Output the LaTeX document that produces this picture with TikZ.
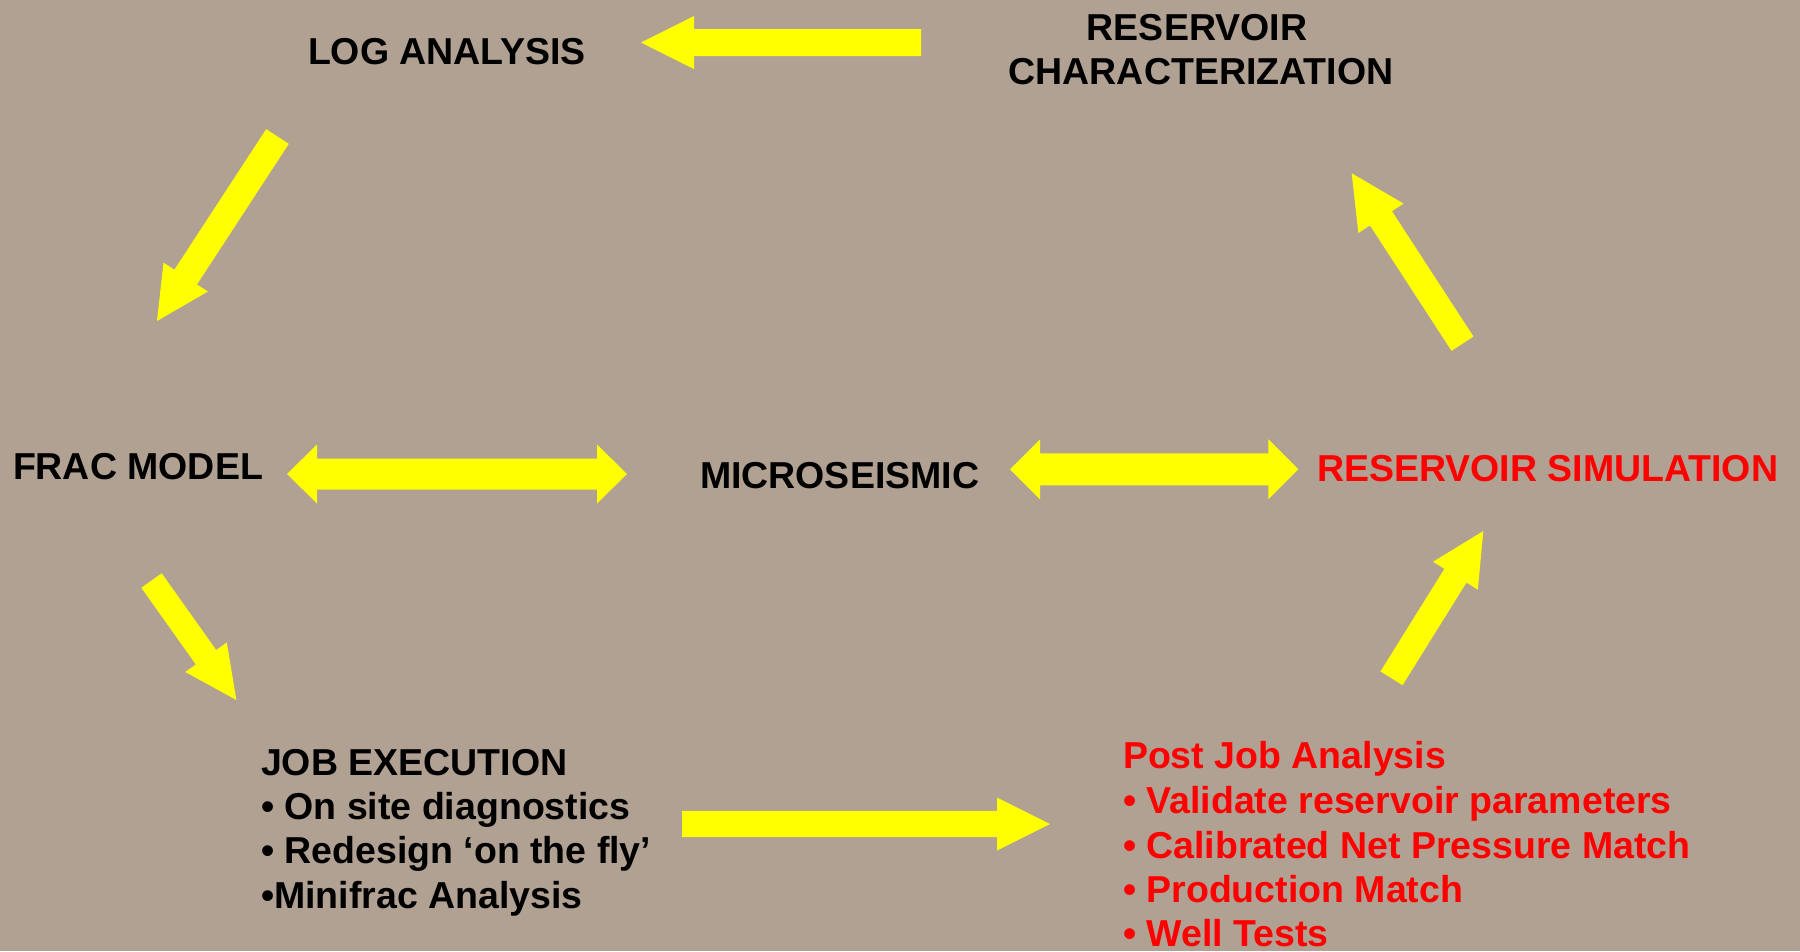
\documentclass[tikz,border=0pt]{standalone}
\usepackage{fontspec}
\setmainfont{Liberation Sans}
\usetikzlibrary{calc}
\definecolor{bgtan}{RGB}{176,161,147}
\definecolor{arrowyellow}{RGB}{255,255,0}
\definecolor{txtred}{RGB}{255,0,0}
\newcommand\blockarr[5]{% tail, tip, shaft half, head half, head length
  \path ($(#2)!#5!(#1)$) coordinate (hb);
  \fill[arrowfill] ($(#1)!#3!90:(#2)$) -- ($(hb)!#3!90:(#2)$) -- ($(hb)!#4!90:(#2)$) -- (#2)
    -- ($(hb)!#4!-90:(#2)$) -- ($(hb)!#3!-90:(#2)$) -- ($(#1)!#3!-90:(#2)$) -- cycle;}
\newcommand\dblarr[5]{% tip A, tip B, shaft half, head half, head length
  \path ($(#1)!#5!(#2)$) coordinate (la) ($(#2)!#5!(#1)$) coordinate (lb);
  \fill[arrowfill] (#1) -- ($(la)!#4!90:(#2)$) -- ($(la)!#3!90:(#2)$) -- ($(lb)!#3!-90:(#1)$)
    -- ($(lb)!#4!-90:(#1)$) -- (#2) -- ($(lb)!#4!90:(#1)$) -- ($(lb)!#3!90:(#1)$)
    -- ($(la)!#3!-90:(#2)$) -- ($(la)!#4!-90:(#2)$) -- cycle;}
\begin{document}
\begin{tikzpicture}[x=1pt,y=-1pt,
  arrowfill/.style={fill=arrowyellow},
  lbl/.style={inner sep=0pt,outer sep=0pt,font=\fontsize{37.5}{44.5}\selectfont\bfseries},
  blk/.style={lbl,text=black},
  rd/.style={lbl,text=txtred}]
\fill[bgtan] (0,0) rectangle (1800,951);
\useasboundingbox (0,0) rectangle (1800,951);

% labels
\node[blk,anchor=base west] (log) at (308,64) {LOG ANALYSIS};
\node[blk,anchor=base] (rc1) at (1197,40) {RESERVOIR};
\node[blk,anchor=base] (rc2) at (1201,84.5) {CHARACTERIZATION};
\node[blk,anchor=base west] (frac) at (13,479) {FRAC MODEL};
\node[blk,anchor=base west] (micro) at (700,488) {MICROSEISMIC};
\node[rd,anchor=base west] (rsim) at (1317,481) {RESERVOIR SIMULATION};

\node[blk,anchor=base west] (job) at (261,775) {JOB EXECUTION};
\node[blk,anchor=base west] (job1) at (261,819) {• On site diagnostics};
\node[blk,anchor=base west] (job2) at (261,863) {• Redesign ‘on the fly’};
\node[blk,anchor=base west] (job3) at (261,908) {•Minifrac Analysis};

\node[rd,anchor=base west] (post) at (1123,768.5) {Post Job Analysis};
\node[rd,anchor=base west] (post1) at (1123,813) {• Validate reservoir parameters};
\node[rd,anchor=base west] (post2) at (1123,858) {• Calibrated Net Pressure Match};
\node[rd,anchor=base west] (post3) at (1123,902.5) {• Production Match};
\node[rd,anchor=base west] (post4) at (1123,946.5) {• Well Tests};

% arrow end points
\coordinate (a1t) at (921,42.5);   \coordinate (a1h) at (641,42.5);
\coordinate (a2t) at (277.5,136.5); \coordinate (a2h) at (157,321);
\coordinate (a3t) at (151.5,580.5); \coordinate (a3h) at (236.4,700);
\coordinate (a4t) at (682,824);    \coordinate (a4h) at (1050,824);
\coordinate (a5t) at (1391.5,678.3); \coordinate (a5h) at (1483.3,531);
\coordinate (a6t) at (1462.5,343.7); \coordinate (a6h) at (1351.7,173.3);
\coordinate (d1a) at (287,474);    \coordinate (d1b) at (627,474);
\coordinate (d2a) at (1010,469.3); \coordinate (d2b) at (1298.4,469.3);

\blockarr{a1t}{a1h}{13.5pt}{26.5pt}{53pt}
\blockarr{a2t}{a2h}{13.5pt}{26.5pt}{52.5pt}
\blockarr{a3t}{a3h}{12.5pt}{25.5pt}{52.5pt}
\blockarr{a4t}{a4h}{13.2pt}{26.5pt}{53pt}
\blockarr{a5t}{a5h}{13pt}{26.4pt}{52.7pt}
\blockarr{a6t}{a6h}{13.1pt}{27pt}{53.7pt}
\dblarr{d1a}{d1b}{15.5pt}{29.5pt}{30pt}
\dblarr{d2a}{d2b}{16pt}{30pt}{30pt}
\end{tikzpicture}
\end{document}
